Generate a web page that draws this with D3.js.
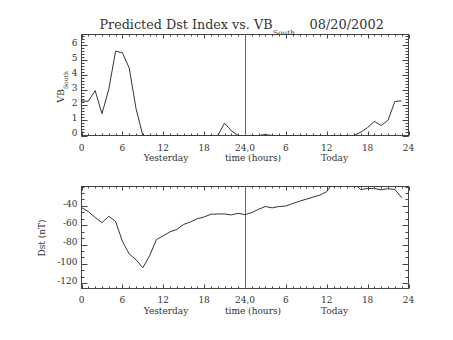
<!DOCTYPE html>
<html>
<head>
<meta charset="utf-8">
<script src="https://cdn.jsdelivr.net/npm/d3@7"></script>
<style>
  html, body { margin: 0; padding: 0; background: #fff; }
  svg { display: block; }
  text { font-family: "DejaVu Serif", "Liberation Serif", serif; fill: #333; }
</style>
</head>
<body>
<script>
// Hourly samples: 0-23 = yesterday, 24-47 = today
const hours = d3.range(48);

// Solar wind VB_south (mV/m)
const vbSouth = [
  2.29, 2.27, 2.98, 1.45, 3.05, 5.59, 5.50, 4.48, 1.79, 0.00,
  0.00, 0.00, 0.00, 0.00, 0.00, 0.00, 0.00, 0.00, 0.00, 0.00,
  0.00, 0.82, 0.31, 0.00, 0.00, 0.00, 0.00, 0.06, 0.00, 0.00,
  0.00, 0.00, 0.00, 0.00, 0.00, 0.00, 0.00, 0.00, 0.00, 0.00,
  0.00, 0.22, 0.53, 0.93, 0.66, 1.02, 2.26, 2.30
];

// Predicted Dst index (nT)
const dst = [
  -41.8, -46.0, -51.9, -57.4, -50.8, -56.0, -76.6, -89.8, -95.7, -104.1,
  -91.6, -74.8, -71.0, -66.8, -64.4, -59.2, -56.7, -53.3, -51.5, -48.7,
  -48.4, -48.4, -49.4, -47.7, -49.1, -47.0, -43.5, -40.7, -42.1, -40.7,
  -40.2, -37.6, -35.2, -33.1, -31.0, -28.9, -25.3, -15.0, -13.0, -13.0,
  -16.7, -23.3, -21.9, -22.3, -23.3, -22.3, -23.0, -31.6
];

// Axis ticks
const xMajor = [0, 6, 12, 18, 24, 30, 36, 42, 48];
const xTickLabels = ["0", "6", "12", "18", "24,0", "6", "12", "18", "24"];
const vbTicks = [0, 1, 2, 3, 4, 5, 6];
const dstTicks = [-120, -100, -80, -60, -40];

const titleMain = "Predicted Dst Index vs. VB";
const titleSub = "South";
const titleDate = "08/20/2002";

const W = 453, H = 340;
const svg = d3.select("body").append("svg").attr("width", W).attr("height", H);

const x = d3.scaleLinear().domain([0, 48]).range([81.5, 408.5]);
const yTop = d3.scaleLinear().domain([0, 6.7]).range([135.5, 34.5]);
const yBot = d3.scaleLinear().domain([-125.5, -20]).range([288.5, 186.5]);

const axisColor = "#444";
const lineColor = "#333";

function panel(y, values, majorY, minorStep, tickLabelBase, sublabelBase, clipId) {
  const [x0, x1] = x.range();
  const [yb, yt] = y.range();
  const g = svg.append("g");

  // minor / major ticks along the bottom and top edges (pointing inward)
  const xMinor = d3.range(0, 49, 1).filter(v => v % 6 !== 0);
  const drawX = (vals, len) => {
    g.append("g").selectAll("line.b").data(vals).join("line")
      .attr("x1", d => Math.round(x(d)) + 0.5).attr("x2", d => Math.round(x(d)) + 0.5)
      .attr("y1", yb).attr("y2", yb - len).attr("stroke", axisColor).attr("stroke-width", 1);
    g.append("g").selectAll("line.t").data(vals).join("line")
      .attr("x1", d => Math.round(x(d)) + 0.5).attr("x2", d => Math.round(x(d)) + 0.5)
      .attr("y1", yt).attr("y2", yt + len).attr("stroke", axisColor).attr("stroke-width", 1);
  };
  drawX(xMinor, 2);
  drawX(xMajor, 4);

  const [d0, d1] = y.domain();
  const yMinor = [];
  for (let v = Math.ceil(d0 / minorStep) * minorStep; v <= d1 + 1e-9; v += minorStep) yMinor.push(+v.toFixed(6));
  const drawY = (vals, len) => {
    g.append("g").selectAll("line.l").data(vals).join("line")
      .attr("y1", d => Math.round(y(d)) + 0.5).attr("y2", d => Math.round(y(d)) + 0.5)
      .attr("x1", x0).attr("x2", x0 + len).attr("stroke", axisColor).attr("stroke-width", 1);
    g.append("g").selectAll("line.r").data(vals).join("line")
      .attr("y1", d => Math.round(y(d)) + 0.5).attr("y2", d => Math.round(y(d)) + 0.5)
      .attr("x1", x1).attr("x2", x1 - len).attr("stroke", axisColor).attr("stroke-width", 1);
  };
  drawY(yMinor, 3);
  drawY(majorY, 6);

  // frame
  g.append("rect").attr("x", x0).attr("y", yt).attr("width", x1 - x0).attr("height", yb - yt)
    .attr("fill", "none").attr("stroke", axisColor).attr("stroke-width", 1);

  // day boundary
  g.append("line").attr("x1", Math.round(x(24)) + 0.5).attr("x2", Math.round(x(24)) + 0.5)
    .attr("y1", yt).attr("y2", yb).attr("stroke", "#666").attr("stroke-width", 1);

  // y tick labels
  g.append("g").selectAll("text").data(majorY).join("text")
    .attr("x", x0 - 4).attr("y", d => y(d) + 0.8)
    .attr("text-anchor", "end").attr("font-size", 9)
    .text(d => d < 0 ? "-" + Math.abs(d) : d);

  // x tick labels
  g.append("g").selectAll("text").data(xMajor).join("text")
    .attr("x", d => x(d)).attr("y", tickLabelBase)
    .attr("text-anchor", "middle").attr("font-size", 9)
    .text((d, i) => xTickLabels[i]);

  g.append("text").attr("x", 166).attr("y", sublabelBase).attr("text-anchor", "middle")
    .attr("font-size", 9).text("Yesterday");
  g.append("text").attr("x", 253).attr("y", sublabelBase).attr("text-anchor", "middle")
    .attr("font-size", 9).text("time (hours)");
  g.append("text").attr("x", 334.5).attr("y", sublabelBase).attr("text-anchor", "middle")
    .attr("font-size", 9).text("Today");

  // data line, clipped to the frame
  svg.append("clipPath").attr("id", clipId).append("rect")
    .attr("x", x0).attr("y", yt).attr("width", x1 - x0).attr("height", yb - yt);
  const line = d3.line().x((d, i) => x(hours[i])).y(d => y(d));
  svg.append("path").datum(values).attr("d", line)
    .attr("clip-path", `url(#${clipId})`)
    .attr("fill", "none").attr("stroke", lineColor).attr("stroke-width", 1);
}

panel(yTop, vbSouth, vbTicks, 0.2, 150.5, 160.5, "clipTop");
panel(yBot, dst, dstTicks, 20 / 3, 302.5, 313.5, "clipBot");

// title
svg.append("text").attr("x", 99.5).attr("y", 28.5).attr("font-size", 12)
  .attr("textLength", 173).attr("lengthAdjust", "spacingAndGlyphs").text(titleMain);
svg.append("text").attr("x", 273).attr("y", 34.5).attr("font-size", 6.5)
  .attr("textLength", 22).attr("lengthAdjust", "spacingAndGlyphs").text(titleSub);
svg.append("text").attr("x", 309.5).attr("y", 28.5).attr("font-size", 12)
  .attr("textLength", 74.5).attr("lengthAdjust", "spacingAndGlyphs").text(titleDate);

// y axis titles
const vbLab = svg.append("text").attr("transform", "translate(63.5,87) rotate(-90)")
  .attr("text-anchor", "middle").attr("font-size", 9.5);
vbLab.append("tspan").text("VB");
vbLab.append("tspan").attr("font-size", 6).attr("dy", 4).text("South");

svg.append("text").attr("transform", "translate(45,238) rotate(-90)")
  .attr("text-anchor", "middle").attr("font-size", 9).text("Dst (nT)");
</script>
</body>
</html>
